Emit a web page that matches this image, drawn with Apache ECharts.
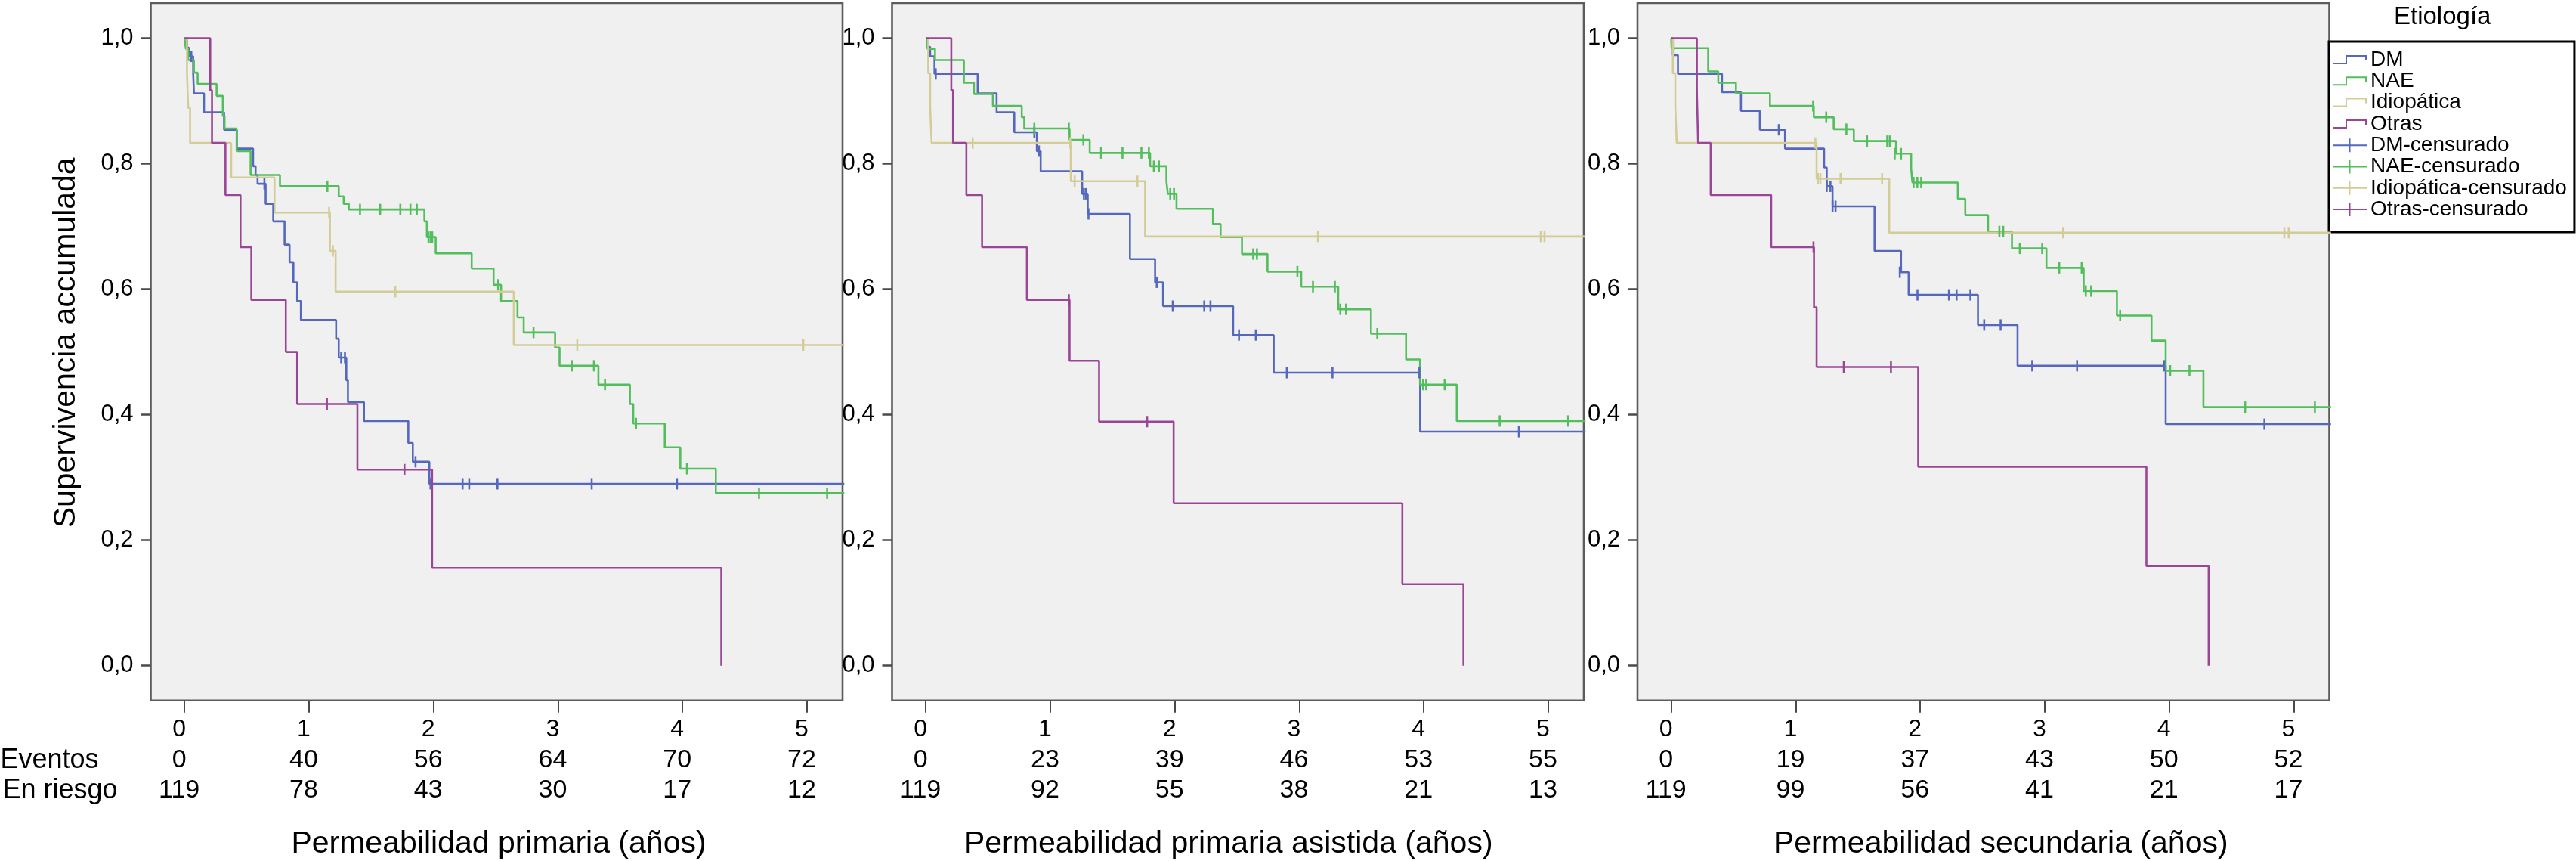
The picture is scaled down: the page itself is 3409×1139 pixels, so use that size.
<!DOCTYPE html>
<html><head><meta charset="utf-8">
<script src="https://cdn.jsdelivr.net/npm/echarts@6/dist/echarts.min.js"></script>
<style>html,body{margin:0;padding:0;background:#fff}#chart{width:3409px;height:1139px}</style>
</head><body><div id="chart"></div>
<script>
// ---------- text ----------
const groups = ['DM', 'NAE', 'Idiopática', 'Otras'];
const censoredNames = ['DM-censurado', 'NAE-censurado', 'Idiopática-censurado', 'Otras-censurado'];
const xTicks = [0, 1, 2, 3, 4, 5];
const yTicks = [0, 0.2, 0.4, 0.6, 0.8, 1.0];
const titles = ['Permeabilidad primaria (años)', 'Permeabilidad primaria asistida (años)', 'Permeabilidad secundaria (años)'];
const yTitle = 'Supervivencia accumulada';
const rowLabels = ['Eventos', 'En riesgo'];
const legendTitle = 'Etiología';

// ---------- tables under each panel ----------
const events1 = [0, 40, 56, 64, 70, 72];
const risk1 = [119, 78, 43, 30, 17, 12];
const events2 = [0, 23, 39, 46, 53, 55];
const risk2 = [119, 92, 55, 38, 21, 13];
const events3 = [0, 19, 37, 43, 50, 52];
const risk3 = [119, 99, 56, 41, 21, 17];

// ---------- panel 1: permeabilidad primaria [years, survival] ----------
const p1DM = [[0,1],[0.021,0.985],[0.035,0.971],[0.07,0.943],[0.076,0.912],[0.157,0.882],[0.318,0.854],[0.42,0.824],[0.551,0.796],[0.571,0.782],[0.587,0.768],[0.652,0.736],[0.713,0.708],[0.804,0.671],[0.844,0.643],[0.875,0.611],[0.905,0.581],[0.935,0.551],[1.218,0.521],[1.239,0.491],[1.30,0.455],[1.313,0.42],[1.442,0.39],[1.798,0.355],[1.834,0.325],[1.967,0.29],[5.3,0.29]];
const p1DMc = [[0.055,0.971],[0.642,0.768],[1.259,0.491],[1.289,0.491],[1.856,0.325],[1.976,0.29],[2.234,0.29],[2.287,0.29],[2.514,0.29],[3.271,0.29],[3.956,0.29]];
const p1NAE = [[0,1],[0.011,0.983],[0.03,0.965],[0.076,0.945],[0.106,0.927],[0.258,0.908],[0.308,0.876],[0.322,0.856],[0.419,0.82],[0.531,0.782],[0.767,0.764],[1.239,0.748],[1.279,0.736],[1.32,0.727],[1.927,0.708],[1.947,0.683],[2.018,0.657],[2.307,0.633],[2.483,0.607],[2.543,0.581],[2.675,0.555],[2.725,0.531],[2.977,0.507],[3.013,0.478],[3.325,0.448],[3.578,0.417],[3.605,0.386],[3.858,0.348],[3.983,0.314],[4.268,0.275],[5.3,0.275]];
const p1NAEc = [[1.148,0.764],[1.41,0.727],[1.572,0.727],[1.734,0.727],[1.815,0.727],[1.866,0.727],[1.96,0.683],[1.977,0.683],[1.99,0.683],[2.52,0.607],[2.804,0.531],[3.111,0.478],[3.289,0.478],[3.378,0.448],[3.627,0.386],[4.036,0.314],[4.615,0.275],[5.162,0.275]];
const p1Idio = [[0,1],[0.02,0.944],[0.03,0.889],[0.045,0.833],[0.375,0.778],[0.723,0.722],[1.168,0.661],[1.214,0.596],[2.645,0.511],[5.3,0.511]];
const p1IdioC = [[1.162,0.722],[1.192,0.661],[1.694,0.596],[3.155,0.511],[4.971,0.511]];
const p1Otras = [[0,1],[0.207,0.917],[0.221,0.833],[0.329,0.75],[0.45,0.667],[0.537,0.583],[0.814,0.5],[0.905,0.417],[1.389,0.3125],[1.989,0.156],[4.312,0]];
const p1OtrasC = [[1.144,0.417],[1.767,0.3125]];

// ---------- panel 2: permeabilidad primaria asistida ----------
const p2DM = [[0,1],[0.02,0.986],[0.035,0.971],[0.07,0.943],[0.417,0.912],[0.569,0.882],[0.711,0.85],[0.892,0.82],[0.923,0.788],[1.256,0.752],[1.301,0.72],[1.64,0.648],[1.842,0.611],[1.906,0.573],[2.469,0.527],[2.795,0.467],[3.971,0.373],[5.3,0.373]];
const p2DMc = [[0.08,0.943],[0.872,0.85],[0.909,0.82],[1.27,0.752],[1.287,0.752],[1.307,0.72],[1.855,0.611],[1.984,0.573],[2.237,0.573],[2.287,0.573],[2.516,0.527],[2.651,0.527],[2.9,0.467],[3.267,0.467],[3.965,0.467],[4.764,0.373]];
const p2NAE = [[0,1],[0.013,0.983],[0.074,0.965],[0.306,0.929],[0.387,0.911],[0.539,0.892],[0.771,0.874],[0.791,0.856],[1.155,0.838],[1.317,0.817],[1.802,0.796],[1.933,0.772],[1.944,0.752],[2.014,0.728],[2.307,0.704],[2.368,0.683],[2.54,0.656],[2.745,0.628],[3.016,0.604],[3.313,0.568],[3.576,0.529],[3.858,0.488],[3.97,0.448],[4.265,0.39],[5.3,0.39]];
const p2NAEc = [[0.872,0.856],[1.149,0.856],[1.266,0.838],[1.408,0.817],[1.58,0.817],[1.732,0.817],[1.792,0.817],[1.832,0.796],[1.873,0.796],[1.964,0.752],[1.994,0.752],[2.63,0.656],[2.66,0.656],[2.985,0.628],[3.11,0.604],[3.286,0.604],[3.33,0.568],[3.376,0.568],[3.627,0.529],[3.995,0.448],[4.02,0.448],[4.168,0.448],[4.61,0.39],[5.16,0.39]];
const p2Idio = [[0,1],[0.02,0.944],[0.035,0.889],[0.047,0.833],[1.165,0.772],[1.762,0.684],[5.3,0.684]];
const p2IdioC = [[0.377,0.833],[1.16,0.833],[1.196,0.772],[1.7,0.772],[3.15,0.684],[4.94,0.684],[4.97,0.684]];
const p2Otras = [[0,1],[0.205,0.917],[0.219,0.833],[0.326,0.75],[0.452,0.667],[0.812,0.583],[1.155,0.486],[1.392,0.389],[1.991,0.259],[3.828,0.13],[4.319,0]];
const p2OtrasC = [[1.149,0.583],[1.778,0.389]];

// ---------- panel 3: permeabilidad secundaria ----------
const p3DM = [[0,1],[0.013,0.973],[0.054,0.943],[0.408,0.914],[0.56,0.884],[0.712,0.854],[0.914,0.824],[1.228,0.794],[1.249,0.764],[1.296,0.732],[1.633,0.661],[1.846,0.627],[1.907,0.591],[2.464,0.543],[2.782,0.478],[3.972,0.385],[5.3,0.385]];
const p3DMc = [[0.864,0.854],[1.249,0.764],[1.279,0.764],[1.296,0.732],[1.32,0.732],[1.836,0.627],[1.978,0.591],[2.231,0.591],[2.292,0.591],[2.403,0.591],[2.514,0.543],[2.646,0.543],[2.9,0.478],[3.26,0.478],[3.96,0.478],[4.765,0.385]];
const p3NAE = [[0,1],[0.003,0.984],[0.297,0.947],[0.378,0.929],[0.52,0.912],[0.793,0.892],[1.145,0.874],[1.305,0.855],[1.467,0.836],[1.806,0.816],[1.927,0.793],[1.937,0.77],[2.302,0.744],[2.362,0.718],[2.545,0.692],[2.737,0.665],[3.014,0.634],[3.313,0.597],[3.58,0.558],[3.858,0.518],[3.972,0.47],[4.275,0.412],[5.3,0.412]];
const p3NAEc = [[1.14,0.892],[1.245,0.874],[1.407,0.855],[1.573,0.836],[1.735,0.836],[1.755,0.836],[1.795,0.816],[1.846,0.816],[1.947,0.77],[1.977,0.77],[2.008,0.77],[2.636,0.692],[2.667,0.692],[2.8,0.665],[2.98,0.665],[3.117,0.634],[3.297,0.634],[3.33,0.597],[3.373,0.597],[3.606,0.558],[4.008,0.47],[4.163,0.47],[4.61,0.412],[5.17,0.412]];
const p3Idio = [[0,1],[0.013,0.944],[0.033,0.889],[0.044,0.833],[1.168,0.776],[1.751,0.69],[5.3,0.69]];
const p3IdioC = [[1.158,0.833],[1.178,0.776],[1.198,0.776],[1.36,0.776],[1.694,0.776],[3.148,0.69],[4.925,0.69],[4.96,0.69]];
const p3Otras = [[0,1],[0.206,0.917],[0.216,0.833],[0.317,0.75],[0.803,0.667],[1.147,0.571],[1.168,0.476],[1.984,0.317],[3.817,0.159],[4.317,0]];
const p3OtrasC = [[1.143,0.667],[1.386,0.476],[1.765,0.476]];

// ---------- styling / layout (not data) ----------
const FONT = "'Liberation Sans', Arial, Helvetica, sans-serif";
const COLORS = ['#5568bd', '#52be5c', '#d3cc96', '#9a4596'];
const GRID_LEFT = [199.5, 1180.5, 2167];
const GRID_W = 915.5, GRID_TOP = 4, GRID_H = 922.7;
const X_MIN = -0.271, X_MAX = 5.286, Y_MIN = -0.0554, Y_MAX = 1.056;
const TITLE_PAD = [[0, 0, 0, 5.5], [0, 25, 0, 0], [0, 0, 0, 46]];
const STEP_ICON = 'path://M0,10 L17,10 L17,0 L45,0 L45,7 L43,7 L43,2 L19,2 L19,12 L0,12 Z';
const CENS_ICON = 'path://M0,8 L45,8 L45,10 L0,10 Z M21.5,0 L23.5,0 L23.5,18 L21.5,18 Z';
const TICK_MARK = 'path://M0,0 L2,0 L2,16 L0,16 Z';

const panels = [
  { curves: [p1DM, p1NAE, p1Idio, p1Otras], cens: [p1DMc, p1NAEc, p1IdioC, p1OtrasC], events: events1, risk: risk1 },
  { curves: [p2DM, p2NAE, p2Idio, p2Otras], cens: [p2DMc, p2NAEc, p2IdioC, p2OtrasC], events: events2, risk: risk2 },
  { curves: [p3DM, p3NAE, p3Idio, p3Otras], cens: [p3DMc, p3NAEc, p3IdioC, p3OtrasC], events: events3, risk: risk3 }
];

const grids = [], xAxes = [], yAxes = [], series = [];
panels.forEach((p, i) => {
  grids.push({ left: GRID_LEFT[i], top: GRID_TOP, width: GRID_W, height: GRID_H, show: true,
    backgroundColor: '#f0f0f0', borderColor: '#5c5c5c', borderWidth: 2.6, containLabel: false, outerBoundsMode: 'none' });
  const base = { gridIndex: i, type: 'value', min: X_MIN, max: X_MAX, position: 'bottom', splitLine: { show: false }, axisLine: { show: false, onZero: false } };
  xAxes.push(Object.assign({}, base, {
    axisTick: { show: true, length: 16, lineStyle: { width: 2, color: '#4a4a4a' }, customValues: xTicks },
    axisLabel: { customValues: xTicks, fontSize: 32, fontFamily: FONT, color: '#000', margin: 38, verticalAlign: 'middle', lineHeight: 32, padding: [0, 14, 0, 0] },
    name: titles[i], nameLocation: 'middle', nameGap: 190,
    nameTextStyle: { fontSize: 41, fontFamily: FONT, color: '#000', verticalAlign: 'middle', lineHeight: 41, padding: TITLE_PAD[i] }
  }));
  const rowAxis = (vals, offset, label, gap) => Object.assign({}, base, {
    offset: offset, axisTick: { show: false },
    axisLabel: { customValues: xTicks, formatter: v => String(vals[xTicks.indexOf(Math.round(v))]), fontSize: 34, fontFamily: FONT, color: '#000', margin: 0, verticalAlign: 'middle', lineHeight: 34, padding: [0, 14, 0, 0] },
    name: i === 0 ? label : '', nameLocation: 'start', nameGap: gap,
    nameTextStyle: { fontSize: 36, fontFamily: FONT, color: '#000', align: 'right', verticalAlign: 'middle' }
  });
  xAxes.push(rowAxis(p.events, 79, rowLabels[0], 69));
  xAxes.push(rowAxis(p.risk, 119.4, rowLabels[1], 44));
  yAxes.push({
    gridIndex: i, type: 'value', min: Y_MIN, max: Y_MAX, position: 'left', splitLine: { show: false }, axisLine: { show: false, onZero: false },
    axisTick: { show: true, length: 13, lineStyle: { width: 2.5, color: '#4a4a4a' }, customValues: yTicks },
    axisLabel: { customValues: yTicks, formatter: v => v.toFixed(1).replace('.', ','), fontSize: 31, fontFamily: FONT, color: '#000', margin: 23 },
    name: i === 0 ? yTitle : '', nameLocation: 'middle', nameGap: 112, nameRotate: 90,
    nameTextStyle: { fontSize: 41, fontFamily: FONT, color: '#000', verticalAlign: 'middle', padding: [0, 0, 0, 24] }
  });
  groups.forEach((g, k) => {
    series.push({ type: 'line', name: g, xAxisIndex: 3 * i, yAxisIndex: i, data: p.curves[k], step: 'end',
      showSymbol: false, symbol: 'none', clip: true, silent: true, z: 2 + k,
      lineStyle: { width: 2.6, color: COLORS[k] }, itemStyle: { color: COLORS[k] }, emphasis: { disabled: true } });
  });
  groups.forEach((g, k) => {
    series.push({ type: 'scatter', name: censoredNames[k], xAxisIndex: 3 * i, yAxisIndex: i, data: p.cens[k],
      symbol: TICK_MARK, symbolSize: [2.6, 15], clip: true, silent: true, z: 6 + k,
      itemStyle: { color: COLORS[k], opacity: 1 }, emphasis: { disabled: true } });
  });
});

const legendData = groups.map((g, k) => ({ name: g, icon: STEP_ICON, itemStyle: { color: COLORS[k], borderWidth: 0 } }))
  .concat(censoredNames.map((g, k) => ({ name: g, icon: CENS_ICON, itemStyle: { color: COLORS[k], borderWidth: 0 } })));

const option = {
  animation: false,
  backgroundColor: '#ffffff',
  grid: grids, xAxis: xAxes, yAxis: yAxes, series: series,
  legend: {
    orient: 'vertical', left: 3082, top: 55, padding: [10, 10, 16, 5],
    itemWidth: 45, itemHeight: 18, itemGap: 0.3, selectedMode: false,
    borderColor: '#000', borderWidth: 3, backgroundColor: '#fff',
    itemStyle: { borderWidth: 0 },
    textStyle: { fontSize: 28, lineHeight: 28, fontFamily: FONT, color: '#000' },
    data: legendData
  },
  graphic: [{
    type: 'text', left: 3234 - 66, top: 6,
    style: { text: legendTitle, fontSize: 33, fontFamily: FONT, fill: '#000' }
  }]
};

const chart = echarts.init(document.getElementById('chart'));
chart.setOption(option);
</script>
</body></html>
